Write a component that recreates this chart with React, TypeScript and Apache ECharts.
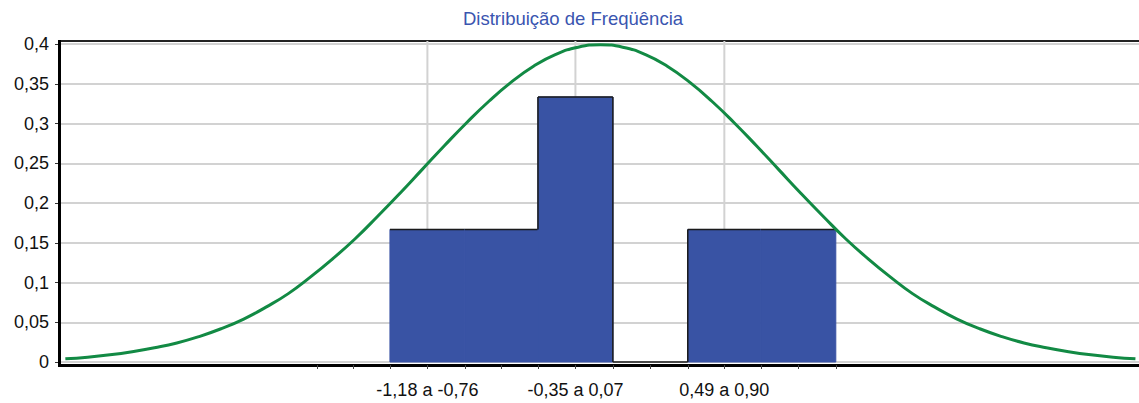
import React, { useEffect, useRef } from "react";
import * as echarts from "echarts";

// Histogram bins (relative frequency)
const binStarts = [-1.18, -0.76, -0.35, 0.07, 0.49, 0.9];
const binEnds = [-0.76, -0.35, 0.07, 0.49, 0.9, 1.32];
const binFreqs = [0.1667, 0.1667, 0.3333, 0, 0.1667, 0.1667];

// Labelled bins (positions are bin centres) and their texts
const labelPositions = [-0.97, -0.14, 0.695];
const labelTexts = ["-1,18 a -0,76", "-0,35 a 0,07", "0,49 a 0,90"];

// Tick positions on the x axis (bin edges and centres)
const tickPositions = [
  -1.59, -1.385, -1.18, -0.97, -0.76, -0.555, -0.35, -0.14, 0.07, 0.28, 0.49,
  0.695, 0.9, 1.11, 1.32,
];

// Normal curve
const curveX = [
  -3, -2.875, -2.75, -2.625, -2.5, -2.375, -2.25, -2.125, -2, -1.875, -1.75,
  -1.625, -1.5, -1.375, -1.25, -1.125, -1, -0.875, -0.75, -0.625, -0.5, -0.375,
  -0.25, -0.125, 0, 0.125, 0.25, 0.375, 0.5, 0.625, 0.75, 0.875, 1, 1.125,
  1.25, 1.375, 1.5, 1.625, 1.75, 1.875, 2, 2.125, 2.25, 2.375, 2.5, 2.625,
  2.75, 2.875, 3,
];
const curveY = [
  0.004, 0.006, 0.009, 0.013, 0.018, 0.024, 0.032, 0.042, 0.054, 0.069, 0.086,
  0.107, 0.13, 0.155, 0.183, 0.212, 0.242, 0.272, 0.301, 0.328, 0.352, 0.372,
  0.387, 0.396, 0.399, 0.396, 0.387, 0.372, 0.352, 0.328, 0.301, 0.272, 0.242,
  0.212, 0.183, 0.155, 0.13, 0.107, 0.086, 0.069, 0.054, 0.042, 0.032, 0.024,
  0.018, 0.013, 0.009, 0.006, 0.004,
];

const yTicks = { min: 0, max: 0.4, interval: 0.05 };
const xRange = { min: -3.03, max: 3.02 };

const TITLE = "Distribuição de Freqüência";
const FONT = "Liberation Sans, Arial, sans-serif";

export default function App() {
  const ref = useRef<HTMLDivElement>(null);

  useEffect(() => {
    document.body.style.margin = "0";
    if (!ref.current) return;
    const chart = echarts.init(ref.current, null, { renderer: "svg" });

    const gridLeft = 60;
    const gridTop = 44;
    const gridBottom = 41;
    const H = 403;
    const BAR = "#3953a4";

    const barData = binStarts.map((s, i) => [
      s,
      binEnds[i],
      binFreqs[i],
      i > 0 ? binFreqs[i - 1] : -1,
    ]);
    const curveData = curveX.map((x, i) => [x, curveY[i]]);

    const option: any = {
      animation: false,
      backgroundColor: "#ffffff",
      title: {
        text: TITLE,
        left: 463,
        top: 9,
        padding: 0,
        textStyle: {
          color: "#3a55b0",
          fontFamily: FONT,
          fontSize: 18.5,
          fontWeight: "normal",
        },
      },
      grid: {
        left: gridLeft,
        right: 0,
        top: gridTop,
        bottom: gridBottom,
        containLabel: false,
      },
      xAxis: [
        {
          type: "value",
          min: xRange.min,
          max: xRange.max,
          position: "bottom",
          offset: 3,
          axisLine: { show: true, onZero: false, lineStyle: { color: "#000", width: 3 } },
          axisTick: {
            show: true,
            customValues: tickPositions,
            length: 4,
            lineStyle: { color: "#444", width: 1 },
          },
          axisLabel: {
            show: true,
            customValues: labelPositions,
            margin: 16,
            color: "#111",
            fontFamily: FONT,
            fontSize: 18,
            formatter: (v: number) => {
              let best = 0;
              labelPositions.forEach((p, i) => {
                if (Math.abs(p - v) < Math.abs(labelPositions[best] - v)) best = i;
              });
              return labelTexts[best];
            },
          },
          splitLine: { show: false },
          minorTick: { show: false },
        },
        {
          type: "value",
          min: xRange.min,
          max: xRange.max,
          position: "top",
          offset: 3,
          axisLine: { show: true, onZero: false, lineStyle: { color: "#222", width: 2 } },
          axisTick: { show: false },
          axisLabel: { show: false },
          splitLine: { show: false },
        },
      ],
      yAxis: {
        type: "value",
        min: yTicks.min,
        max: yTicks.max,
        interval: yTicks.interval,
        position: "left",
        axisLine: { show: false, onZero: false },
        axisTick: {
          show: true,
          length: 5,
          lineStyle: { color: "#333", width: 1 },
        },
        minorTick: {
          show: true,
          splitNumber: 4,
          length: 2,
          lineStyle: { color: "#777", width: 1 },
        },
        axisLabel: {
          margin: 11,
          color: "#111",
          fontFamily: FONT,
          fontSize: 18,
          formatter: (v: number) => String(Number(v.toFixed(2))).replace(".", ","),
        },
        splitLine: { show: true, lineStyle: { color: "#d2d2d2", width: 2 } },
      },
      graphic: [
        {
          type: "line",
          shape: { x1: gridLeft - 0.5, y1: 40, x2: gridLeft - 0.5, y2: H - gridBottom + 5 },
          style: { stroke: "#000", lineWidth: 3 },
          z: 100,
        },
      ],
      series: [
        {
          type: "custom",
          name: "vgrid",
          silent: true,
          z: 1,
          data: labelPositions.map((p) => [p]),
          encode: { x: 0 },
          renderItem: (params: any, api: any) => {
            const p = api.coord([api.value(0), 0]);
            const cs = params.coordSys;
            return {
              type: "line",
              shape: { x1: p[0], y1: cs.y - 3, x2: p[0], y2: cs.y + cs.height },
              style: { stroke: "#d2d2d2", lineWidth: 2 },
            };
          },
        },
        {
          type: "custom",
          name: "Frequência",
          silent: true,
          z: 2,
          data: barData,
          encode: { x: [0, 1], y: 2 },
          renderItem: (params: any, api: any) => {
            const h = api.value(2);
            const prev = api.value(3);
            const a = api.coord([api.value(0), h]);
            const b = api.coord([api.value(1), 0]);
            const children: any[] = [];
            if (h > 0) {
              children.push({
                type: "rect",
                shape: { x: a[0], y: a[1], width: b[0] - a[0], height: b[1] - a[1] },
                style: { fill: BAR, stroke: BAR, lineWidth: 1 },
              });
            }
            children.push({
              type: "line",
              shape: { x1: a[0], y1: a[1], x2: b[0], y2: a[1] },
              style: { stroke: "#1a1a1a", lineWidth: 1.5 },
            });
            if (prev >= 0 && prev !== h) {
              const pp = api.coord([api.value(0), prev]);
              children.push({
                type: "line",
                shape: { x1: a[0], y1: pp[1], x2: a[0], y2: a[1] },
                style: { stroke: "#1a1a1a", lineWidth: 1.5 },
              });
            }
            return { type: "group", children };
          },
        },
        {
          type: "line",
          name: "Normal",
          z: 3,
          data: curveData,
          smooth: true,
          showSymbol: false,
          symbol: "none",
          silent: true,
          lineStyle: { color: "#128a44", width: 3 },
        },
      ],
    };

    chart.setOption(option);
    return () => chart.dispose();
  }, []);

  return <div ref={ref} style={{ width: 1139, height: 403 }} />;
}
